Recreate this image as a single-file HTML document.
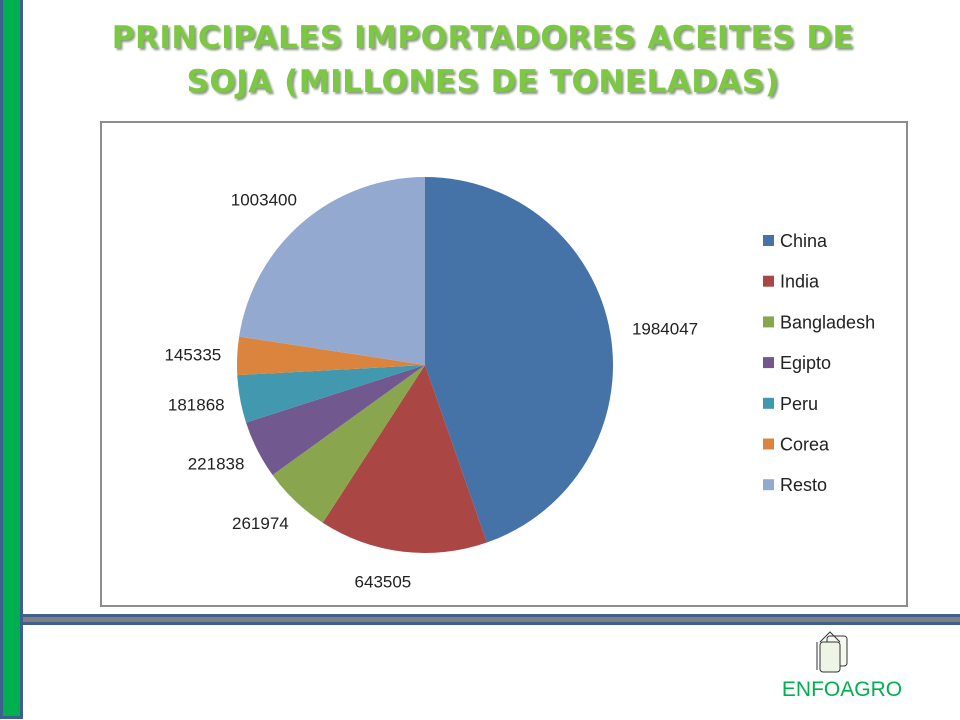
<!DOCTYPE html>
<html><head><meta charset="utf-8"><style>
body{margin:0;width:960px;height:720px;background:#fff;position:relative;overflow:hidden;font-family:"Liberation Sans",sans-serif}
#lb{position:absolute;left:0;top:0;width:17px;height:716px;background:#00b050;border:3px solid #3f5f8f;border-top:none}
#hb{position:absolute;left:23px;top:614px;width:937px;height:5px;background:#808080;border-top:3px solid #3f5f8f;border-bottom:3px solid #3f5f8f}
#title{position:absolute;left:40px;top:16px;width:886px;text-align:center;font:bold 31px/44px "DejaVu Sans",sans-serif;color:#7dc843;text-shadow:2px 2px 2px #8a9a80;letter-spacing:0.5px}
#box{position:absolute;left:100px;top:121px;width:804px;height:482px;border:2px solid #8c8c8c;background:#fff}
</style></head><body>
<div id="lb"></div>
<div id="hb"></div>
<div id="title">PRINCIPALES IMPORTADORES ACEITES DE<br>SOJA (MILLONES DE TONELADAS)</div>
<div id="box"></div>
<svg id="chart" width="960" height="720" style="position:absolute;left:0;top:0"></svg>
<div style="position:absolute;left:776px;top:628px;width:132px;height:76px">
<svg width="132" height="76">
<rect x="51" y="8" width="20" height="30" fill="#f4f8ee" stroke="#333" rx="3"/>
<rect x="44" y="14" width="20" height="30" fill="#eef5e6" stroke="#333" rx="3"/>
<path d="M44 14 L54 4 L64 14" fill="none" stroke="#333"/>
<line x1="41" y1="14" x2="41" y2="42" stroke="#333"/>
<text x="66" y="68" text-anchor="middle" font-family="Liberation Sans Narrow,Liberation Sans,sans-serif" font-size="21" fill="#00b050">ENFOAGRO</text>
</svg></div>
<script>
const categories=["China","India","Bangladesh","Egipto","Peru","Corea","Resto"];
const values=[1984047,643505,261974,221838,181868,145335,1003400];
const colors=["#4572a7","#aa4643","#89a54e","#71588f","#4198af","#db843d","#93a9cf"];
const svg=document.getElementById('chart');const NS="http://www.w3.org/2000/svg";
const cx=425,cy=365,r=188;
const total=values.reduce((a,b)=>a+b,0);
let a0=0;
values.forEach((v,i)=>{
 const a1=a0+v/total*2*Math.PI;
 const p=(a)=>[cx+r*Math.sin(a),cy-r*Math.cos(a)];
 const [x0,y0]=p(a0),[x1,y1]=p(a1);
 const path=document.createElementNS(NS,'path');
 path.setAttribute('d',`M${cx},${cy} L${x0},${y0} A${r},${r} 0 ${a1-a0>Math.PI?1:0} 1 ${x1},${y1} Z`);
 path.setAttribute('fill',colors[i]);
 
 
 svg.appendChild(path);
 const am=(a0+a1)/2, lr=r+30;
 const lx=cx+lr*Math.sin(am), ly=cy-lr*Math.cos(am);
 const s=Math.sin(am);
 const anchor=s>0.2?'start':(s<-0.2?'end':'middle');
 let dx=anchor==='start'?-8:(anchor==='end'?14:-16);
 const t=document.createElementNS(NS,'text');
 t.setAttribute('x',lx+dx);t.setAttribute('y',ly+6);
 t.setAttribute('text-anchor',anchor);
 t.setAttribute('font-size','17');t.setAttribute('fill','#222');
 t.setAttribute('font-family','Liberation Sans,sans-serif');
 t.textContent=v;
 
 
 svg.appendChild(t);
 const ey=241+i*40.7;
 const sq=document.createElementNS(NS,'rect');
 sq.setAttribute('x',763);sq.setAttribute('y',ey-6);sq.setAttribute('width',11);sq.setAttribute('height',11);sq.setAttribute('fill',colors[i]);
 
 
 svg.appendChild(sq);
 const lt=document.createElementNS(NS,'text');
 lt.setAttribute('x',780);lt.setAttribute('y',ey+6);lt.setAttribute('font-size','18');lt.setAttribute('fill','#222');
 lt.setAttribute('font-family','Liberation Sans,sans-serif');
 lt.textContent=categories[i];
 
 
 svg.appendChild(lt);
 a0=a1;
});
</script>
</body></html>
